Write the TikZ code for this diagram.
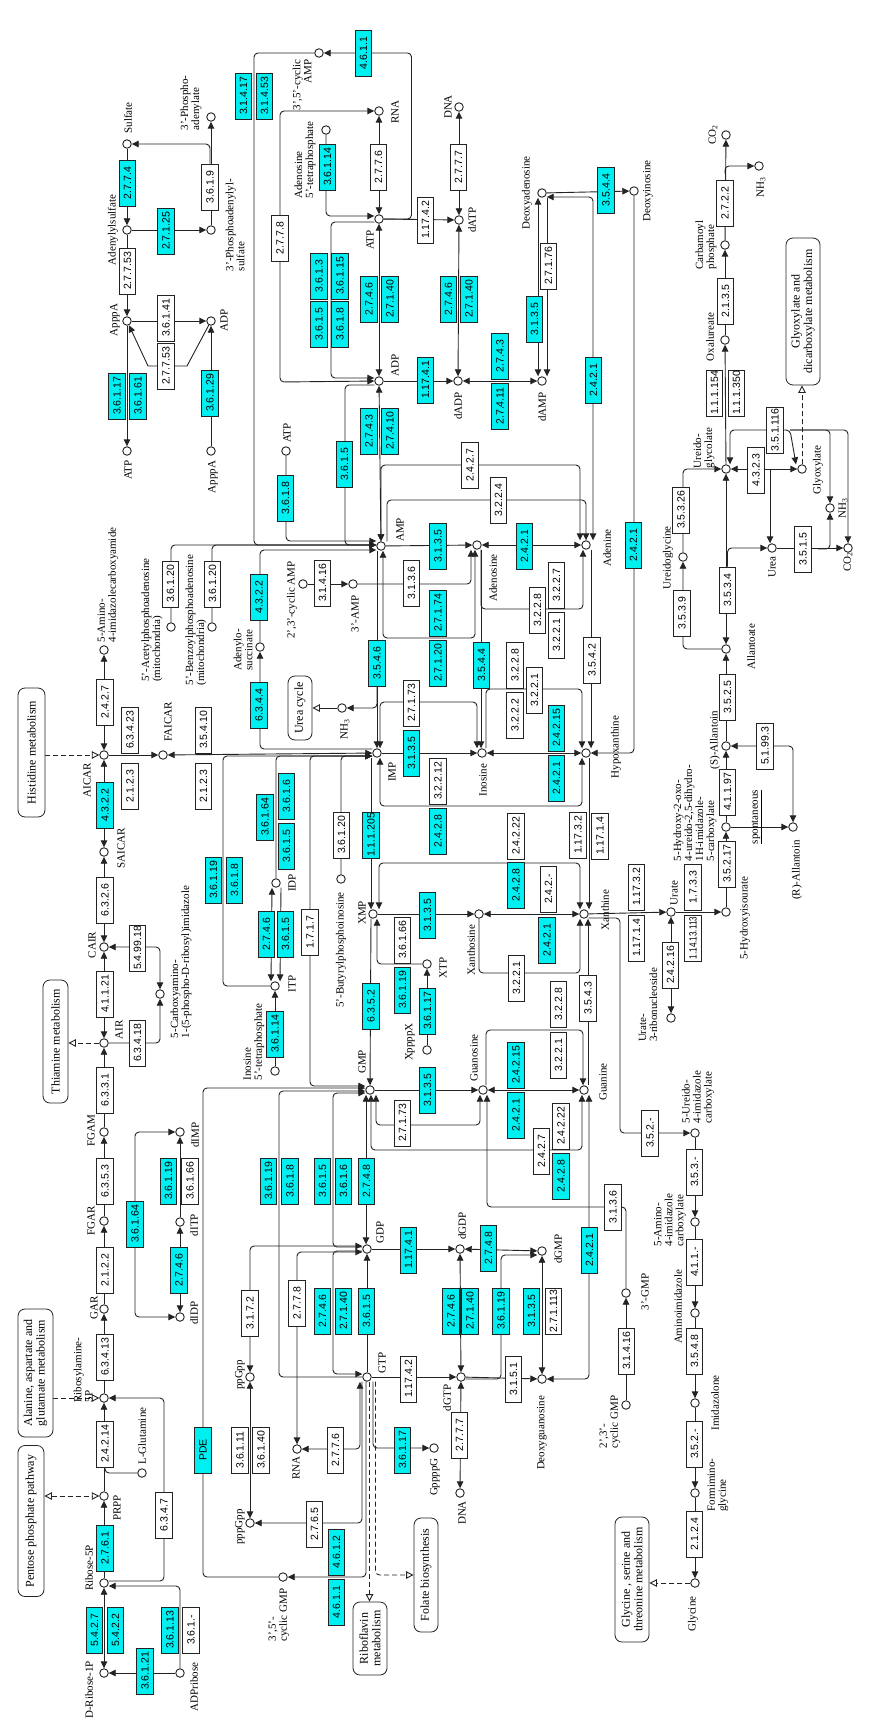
\documentclass[tikz,border=0pt]{standalone}
\usepackage{fontspec}
\setmainfont{Liberation Serif}
\newfontfamily\ecfont{Liberation Sans}
\usetikzlibrary{arrows.meta}
\pgfdeclarelayer{bg}
\pgfsetlayers{bg,main}
\definecolor{kcyan}{RGB}{0,240,242}
\definecolor{kline}{RGB}{35,35,35}
\tikzset{
 cp/.style={circle,draw=kline,fill=white,minimum size=8.5pt,inner sep=0pt,line width=0.9pt},
 ec/.style={draw=kline,rotate=90,minimum width=46pt,minimum height=16.5pt,inner sep=0pt,fill=white,line width=0.8pt,font=\ecfont\fontsize{10.5}{10.5}\selectfont},
 ecc/.style={ec,fill=kcyan},
 lab/.style={rotate=90,align=left,inner sep=0pt,font=\fontsize{11}{11}\selectfont},
 labr/.style={lab,align=right},
 mapbox/.style={draw=kline,rounded corners=7pt,rotate=90,align=center,fill=white,inner sep=1pt,line width=0.8pt,font=\fontsize{12}{12.5}\selectfont},
 ktri/.tip={Triangle[length=7pt,width=6.5pt]},
 kotri/.tip={Triangle[open,length=7.5pt,width=7.5pt]},
 ar/.style={-ktri},
 rar/.style={ktri-ktri},
 mapa/.style={dash pattern=on 5pt off 3pt,-kotri},
 mapb/.style={dash pattern=on 5pt off 3pt,kotri-kotri},
}
\newcommand\kCp[2]{\node[cp] (#1) at (#2) {};}
\newcommand\kEw[3]{\node[ec] (#1) at (#2) {#3};}
\newcommand\kEc[3]{\node[ecc] (#1) at (#2) {#3};}
\newcommand\kLb[3]{\node[lab] (#1) at (#2) {#3};}
\newcommand\kLr[3]{\node[labr] (#1) at (#2) {#3};}
\begin{document}
\begin{tikzpicture}[x=1pt,y=-1pt]
\useasboundingbox (0,0) rectangle (873,1720);
% ---------------- compounds
\kCp{cSulf}{127,144}\kCp{cAPS}{127,230}\kCp{cPAP}{211,117}\kCp{cPAPS}{211,230}
\kCp{cApA}{127,321}\kCp{cADPa}{211,321}\kCp{cATPa}{127,451}\kCp{cApB}{211,451}
\kCp{cATPb}{286,451}\kCp{ccAMP}{319,53}\kCp{cA4P}{326,130}\kCp{cRNAa}{379,111}
\kCp{cATP}{379,219}\kCp{cADP}{379,381}\kCp{cdATP}{459,220}\kCp{cDNAa}{459,107}
\kCp{cdADP}{458,381}\kCp{cdAMP}{542,381}\kCp{cdAdo}{542,193}\kCp{cdIno}{634,191}
\kCp{cCOa}{726,135}\kCp{cNHa}{759,166}\kCp{cCP}{725,245}\kCp{cOxa}{725,340}
\kCp{cUgc}{726,469}\kCp{cGlx}{802,469}\kCp{cNHb}{830,508}\kCp{cUrea}{772,548}
\kCp{cCOb}{848,548}\kCp{cUgly}{683,557}\kCp{cAllt}{726,649}\kCp{cSAll}{726,746}
\kCp{cHOHIU}{726,827}\kCp{cRAll}{793,827}\kCp{cHIU}{726,912}\kCp{cUrate}{671,912}
\kCp{cUrR}{671,1018}\kCp{cUIC}{695,1133}\kCp{cAIC}{695,1222}\kCp{cAI}{695,1313}
\kCp{cImz}{695,1403}\kCp{cFig}{695,1493}\kCp{cGly}{695,1583}\kCp{c3GMP}{626,1293}
\kCp{c23cGMP}{626,1405}\kCp{cAMP}{381,546}\kCp{cAdo}{477,545}\kCp{cAde}{586,545}
\kCp{cIMP}{377,753}\kCp{cIno}{482,753}\kCp{cHx}{586,753}\kCp{cXMP}{373,914}
\kCp{cXao}{479,914}\kCp{cXan}{584,914}\kCp{cGMP}{370,1090}\kCp{cGuo}{483,1090}
\kCp{cGua}{584,1090}\kCp{cGDP}{367,1249}\kCp{cdGDP}{460,1249}\kCp{cdGMP}{542,1251}
\kCp{cGTP}{367,1377}\kCp{cdGTP}{461,1377}\kCp{cdGuo}{542,1379}\kCp{cRNAb}{297,1449}
\kCp{cGpG}{434,1448}\kCp{cDNAb}{460,1493}\kCp{c23cAMP}{303,584}\kCp{c3AMP}{353,584}
\kCp{cNHc}{342,708}\kCp{cAdS}{260,647}\kCp{cAcPA}{171,627}\kCp{cBzPA}{212,627}
\kCp{cR5P}{104,1583}\kCp{cPRPP}{104,1496}\kCp{cPRA}{104,1398}\kCp{cGAR}{104,1309}
\kCp{cFGAR}{104,1221}\kCp{cFGAM}{104,1132}\kCp{cAIR}{104,1043}\kCp{cCAIR}{104,947}
\kCp{cSAICAR}{104,852}\kCp{cAICAR}{104,755}\kCp{cAICA}{104,650}\kCp{cFAICAR}{163,755}
\kCp{cNCAIR}{160,994}\kCp{cR1P}{104,1673}\kCp{cADPR}{180,1673}\kCp{cGln}{142,1473}
\kCp{cdIMP}{180,1132}\kCp{cdITP}{180,1222}\kCp{cdIDP}{180,1317}\kCp{cITP}{275,986}
\kCp{cIDP}{276,883}\kCp{cI4P}{275,1071}\kCp{cBPI}{341,879}\kCp{cXTP}{427,964}
\kCp{cXpX}{427,1050}\kCp{cppGpp}{250,1377}\kCp{cpppGpp}{250,1523}\kCp{ccGMP}{283,1577}
% ---------------- pathway maps
\node[mapbox,minimum width=151pt,minimum height=26pt] (mPPP) at (31,1521) {Pentose phosphate pathway};
\node[mapbox,minimum width=128pt,minimum height=35pt] (mAla) at (35.5,1373) {Alanine, aspartate and\\glutamate metabolism};
\node[mapbox,minimum width=123pt,minimum height=25pt] (mThi) at (55.5,1041.5) {Thiamine metabolism};
\node[mapbox,minimum width=129pt,minimum height=27pt] (mHis) at (31.5,752.5) {Histidine metabolism};
\node[mapbox,minimum width=64pt,minimum height=24pt] (mUrea) at (300,708) {Urea cycle};
\node[mapbox,minimum width=147pt,minimum height=34pt] (mGlyox) at (803,311.5) {Glyoxylate and\\dicarboxylate metabolism};
\node[mapbox,minimum width=73pt,minimum height=34pt] (mRibo) at (370,1638.5) {Riboflavin\\metabolism};
\node[mapbox,minimum width=114pt,minimum height=24pt] (mFol) at (426,1575) {Folate biosynthesis};
\node[mapbox,minimum width=125pt,minimum height=34pt] (mGST) at (632,1579.5) {Glycine , serine and\\threonine metabolism};
% ---------------- enzymes
\kEc{e1}{127.5,183}{2.7.7.4}\kEc{e2}{166,231}{2.7.1.25}\kEw{e3}{210,187}{3.6.1.9}
\kEw{e4}{127.5,271}{2.7.7.53}\kEw{e5}{166,318}{3.6.1.41}\kEw{e6}{166,366}{2.7.7.53}
\kEc{e7}{117,396}{3.6.1.17}\kEc{e8}{138,396}{3.6.1.61}\kEc{e9}{210,393}{3.6.1.29}
\kEc{e10}{243.5,96}{3.1.4.17}\kEc{e11}{264.5,96}{3.1.4.53}\kEc{e12}{363.5,53}{4.6.1.1}
\kEw{e13}{280,238}{2.7.7.8}\kEc{e14}{327.5,167}{3.6.1.14}\kEw{e15}{378.5,167}{2.7.7.6}
\kEw{e16}{425.5,220}{1.17.4.2}\kEw{e17}{458.5,167}{2.7.7.7}\kEc{e18}{369,299}{2.7.4.6}
\kEc{e19}{390,299}{2.7.1.40}\kEc{e20}{319,276}{3.6.1.3}\kEc{e21}{340,276}{3.6.1.15}
\kEc{e22}{319,324}{3.6.1.5}\kEc{e23}{340,324}{3.6.1.8}\kEc{e24}{425.5,380}{1.17.4.1}
\kEc{e25}{448.5,299}{2.7.4.6}\kEc{e26}{469,299}{2.7.1.40}\kEc{e27}{500,356}{2.7.4.3}
\kEc{e28}{500,406}{2.7.4.11}\kEc{e29}{534.5,319}{3.1.3.5}\kEw{e30}{548.5,266}{2.7.1.76}
\kEc{e31}{606,190}{3.5.4.4}\kEc{e32}{593.5,380}{2.4.2.1}\kEc{e33}{369,431}{2.7.4.3}
\kEc{e34}{390,431}{2.7.4.10}\kEc{e35}{344.5,464}{3.6.1.5}\kEc{e36}{285.5,498}{3.6.1.8}
\kEw{e37}{725,203}{2.7.2.2}\kEw{e38}{725.5,301}{2.1.3.5}\kEw{e39}{714.5,393}{1.1.1.154}
\kEw{e40}{736.5,393}{1.1.1.350}\kEw{e41}{775,430}{3.5.1.116}\kEw{e42}{756,470}{4.3.2.3}
\kEw{e43}{681,510}{3.5.3.26}\kEw{e44}{682,613}{3.5.3.9}\kEw{e45}{727.5,590}{3.5.3.4}
\kEw{e46}{803,549}{3.5.1.5}\kEw{e47}{727.5,697}{3.5.2.5}\kEw{e48}{765,746}{5.1.99.3}
\kEw{e49}{727.5,792}{4.1.1.97}\kEw{e50}{727,864}{3.5.2.17}\kEw{e51}{693,887}{1.7.3.3}
\kEw{e52}{693,938}{\scalebox{0.78}[1]{1.14.13.113}}\kEw{e53}{636.5,887}{1.17.3.2}\kEw{e54}{636.5,938}{1.17.1.4}
\kEw{e55}{670.5,965}{2.4.2.16}\kEw{e56}{650,1133}{3.5.2.-}\kEw{e57}{694.5,1172}{3.5.3.-}
\kEw{e58}{694.5,1262}{4.1.1.-}\kEw{e59}{694.5,1351}{3.5.4.8}\kEw{e60}{694.5,1444}{3.5.2.-}
\kEw{e61}{694.5,1534}{2.1.2.4}\kEw{e62}{626.5,1351}{3.1.4.16}\kEw{e63}{613,1207}{3.1.3.6}
\kEc{e64}{589.5,1250}{2.4.2.1}\kEc{e65}{633.5,545}{2.4.2.1}\kEw{e66}{592,660}{3.5.4.2}
\kEc{e67}{438,546}{3.1.3.5}\kEc{e68}{524.5,546}{2.4.2.1}\kEw{e69}{470,465}{2.4.2.7}
\kEw{e70}{498.5,500}{3.2.2.4}\kEw{e71}{537.5,610}{3.2.2.8}\kEw{e72}{556.5,585}{3.2.2.7}
\kEw{e73}{556.5,635}{3.2.2.1}\kEc{e74}{438,613}{2.7.1.74}\kEc{e75}{438,663}{2.7.1.20}
\kEw{e76}{411.5,583}{3.1.3.6}\kEw{e77}{322.5,583}{3.1.4.16}\kEc{e78}{377,663}{3.5.4.6}
\kEc{e79}{481.5,665}{3.5.4.4}\kEw{e80}{411.5,703}{2.7.1.73}\kEc{e81}{411.5,753}{3.1.3.5}
\kEw{e82}{515,715}{3.2.2.2}\kEw{e83}{515,665}{3.2.2.8}\kEw{e84}{534.5,690}{3.2.2.1}
\kEc{e85}{556.5,728}{2.4.2.15}\kEc{e86}{556.5,778}{2.4.2.1}\kEw{e87}{438,781}{3.2.2.12}
\kEc{e88}{438,831}{2.4.2.8}\kEw{e89}{578,835}{1.17.3.2}\kEw{e90}{600,836}{1.17.1.4}
\kEw{e91}{516,836}{2.4.2.22}\kEc{e92}{516,885}{2.4.2.8}\kEw{e93}{548.5,889}{2.4.2.-}
\kEc{e94}{547,940}{2.4.2.1}\kEc{e95}{427.5,915}{3.1.3.5}\kEw{e96}{516.5,978}{3.2.2.1}
\kEc{e97}{371,835}{1.1.1.205}\kEw{e98}{341.5,835}{3.6.1.20}\kEw{e99}{310,932}{1.7.1.7}
\kEc{e100}{371,1006}{6.3.5.2}\kEw{e101}{402.5,940}{3.6.1.66}\kEc{e102}{402.5,990}{3.6.1.19}
\kEc{e103}{427.5,1011}{3.6.1.17}\kEw{e104}{588,998}{3.5.4.3}\kEw{e105}{558.5,1004}{3.2.2.8}
\kEw{e106}{558.5,1055}{3.2.2.1}\kEc{e107}{427.5,1090}{3.1.3.5}\kEc{e108}{516,1065}{2.4.2.15}
\kEc{e109}{516,1115}{2.4.2.1}\kEw{e110}{402.5,1123}{2.7.1.73}\kEw{e111}{541.5,1151}{2.4.2.7}
\kEw{e112}{561,1126}{2.4.2.22}\kEc{e113}{561,1176}{2.4.2.8}
\kEc{e114}{366.5,1181}{2.7.4.8}\kEc{e115}{322.5,1181}{3.6.1.5}\kEc{e116}{343.5,1181}{3.6.1.6}
\kEc{e117}{268.5,1181}{3.6.1.19}\kEc{e118}{290,1181}{3.6.1.8}\kEc{e119}{408.5,1250}{1.17.4.1}
\kEc{e120}{488.5,1248}{2.7.4.8}\kEc{e121}{322.5,1311}{2.7.4.6}\kEc{e122}{343.5,1311}{2.7.1.40}
\kEc{e123}{366.5,1311}{3.6.1.5}\kEw{e124}{408.5,1379}{1.17.4.2}\kEc{e125}{451,1311}{2.7.4.6}
\kEc{e126}{470,1311}{2.7.1.40}\kEc{e127}{501,1311}{3.6.1.19}\kEc{e128}{531.5,1311}{3.1.3.5}
\kEw{e129}{553.5,1311}{2.7.1.113}\kEw{e130}{513.5,1379}{3.1.5.1}\kEw{e131}{459.5,1435}{2.7.7.7}
\kEw{e132}{335.5,1450}{2.7.7.6}\kEc{e133}{402.5,1450}{3.6.1.17}\kEw{e134}{314.5,1524}{2.7.6.5}
\kEc{e135}{336.5,1552}{4.6.1.2}\kEc{e136}{336.5,1602}{4.6.1.1}\kEw{e137}{297,1303}{2.7.7.8}
\kEw{e138}{250,1313}{3.1.7.2}\kEw{e139}{240,1450}{3.6.1.11}\kEw{e140}{261,1450}{3.6.1.40}
\kEc{e141}{203,1450}{PDE}
\kEc{e142}{105,1548}{2.7.6.1}\kEw{e143}{105,1444}{2.4.2.14}\kEw{e144}{105,1357}{6.3.4.13}
\kEw{e145}{105,1270}{2.1.2.2}\kEw{e146}{105,1181}{6.3.5.3}\kEw{e147}{105,1090}{6.3.3.1}
\kEw{e148}{105,994}{4.1.1.21}\kEw{e149}{105,900}{6.3.2.6}\kEw{e150}{137.5,1043}{6.3.4.18}
\kEw{e151}{137.5,948}{5.4.99.18}\kEc{e152}{105,805}{4.3.2.2}\kEw{e153}{130,786}{2.1.2.3}
\kEw{e154}{130,730}{6.3.4.23}\kEw{e155}{203.5,786}{2.1.2.3}\kEw{e156}{203.5,730}{3.5.4.10}
\kEw{e157}{105,702}{2.4.2.7}\kEc{e158}{94.5,1630}{5.4.2.7}\kEc{e159}{115.5,1630}{5.4.2.2}
\kEc{e160}{145,1671}{3.6.1.21}\kEc{e161}{170,1630}{3.6.1.13}\kEw{e162}{191,1630}{3.6.1.-}
\kEw{e163}{164,1515}{6.3.4.7}\kEc{e164}{168.5,1181}{3.6.1.19}\kEw{e165}{190,1181}{3.6.1.66}
\kEc{e166}{179,1270}{2.7.4.6}\kEc{e167}{135,1224}{3.6.1.64}
\kEc{e168}{266.5,934}{2.7.4.6}\kEc{e169}{285.5,934}{3.6.1.5}\kEc{e170}{275,1034}{3.6.1.14}
\kEc{e171}{213.5,880}{3.6.1.19}\kEc{e172}{234.5,880}{3.6.1.8}\kEc{e173}{265,817}{3.6.1.64}
\kEc{e174}{286.5,796}{3.6.1.6}\kEc{e175}{286.5,846}{3.6.1.5}\kEc{e176}{259,705}{6.3.4.4}
\kEc{e177}{259,597}{4.3.2.2}\kEw{e178}{170.5,584}{3.6.1.20}\kEw{e179}{212.5,584}{3.6.1.20}
% ---------------- compound names
\kLb{l1}{128,118}{Sulfate}\kLb{l2}{113,230}{Adenylylsulfate}
\kLb{l3}{191,103}{3'-Phospho-\\adenylate}\kLb{l4}{235,225}{3'-Phosphoadenylyl-\\sulfate}
\kLb{l5}{115,320}{ApppA}\kLb{l6}{224,320}{ADP}\kLb{l7}{128,470}{ATP}\kLb{l8}{213,477}{ApppA}
\kLb{l9}{287,433}{ATP}\kLr{l10}{302,85}{3',5'-cyclic\\AMP}\kLb{l11}{305,160}{Adenosine\\5'-tetraphosphate}
\kLb{l12}{395,112}{RNA}\kLb{l13}{448,107}{DNA}\kLb{l14}{370,240}{ATP}\kLb{l15}{472,220}{dATP}
\kLb{l16}{395,365}{ADP}\kLb{l17}{458,406}{dADP}\kLb{l18}{542,407}{dAMP}
\kLb{l19}{527,193}{Deoxyadenosine}\kLb{l20}{648,191}{Deoxyinosine}
\kLb{l21}{713,135}{CO\textsubscript{2}}\kLb{l22}{761,187}{NH\textsubscript{3}}
\kLb{l23}{706,245}{Carbamoyl\\phosphate}\kLb{l24}{710,337}{Oxalureate}
\kLb{l25}{704,448}{Ureido-\\glycolate}\kLb{l26}{818,470}{Glyoxylate}
\kLb{l27}{843,508}{NH\textsubscript{3}}\kLb{l28}{772,567}{Urea}\kLb{l29}{848,562}{CO\textsubscript{2}}
\kLb{l30}{668,558}{Ureidoglycine}\kLb{l31}{751,647}{Allantoate}\kLb{l32}{715,740}{(S)-Allantoin}
\kLb{l33}{695,813}{5-Hydroxy-2-oxo-\\4-ureido-2,5-dihydro-\\1H-imidazole-\\5-carboxylate}
\kLb{l34}{757,817}{\underline{spontaneous}}\kLb{l35}{797,870}{(R)-Allantoin}
\kLb{l36}{745,918}{5-Hydroxyisourate}\kLb{l37}{674,893}{Urate}
\kLb{l38}{648,1005}{Urate-\\3-ribonucleoside}\kLb{l39}{605,910}{Xanthine}
\kLb{l40}{698,1097}{5-Ureido-\\4-imidazole\\carboxylate}\kLb{l41}{670,1220}{5-Amino-\\4-imidazole\\carboxylate}
\kLb{l42}{678,1307}{Aminoimidazole}\kLb{l43}{715,1403}{Imidazolone}
\kLb{l44}{718,1485}{Formimino-\\glycine}\kLb{l45}{693,1614}{Glycine}
\kLb{l46}{645,1292}{3'-GMP}\kLb{l47}{610,1422}{2',3'-\\cyclic GMP}
\kLb{l48}{400,530}{AMP}\kLb{l49}{493,578}{Adenosine}\kLb{l50}{607,548}{Adenine}
\kLb{l51}{292,600}{2',3'-cyclic AMP}\kLb{l52}{355,614}{3'-AMP}\kLb{l53}{345,729}{NH\textsubscript{3}}
\kLb{l54}{392,772}{IMP}\kLb{l55}{483,780}{Inosine}\kLb{l56}{616,747}{Hypoxanthine}
\kLb{l57}{362,913}{XMP}\kLb{l58}{471,950}{Xanthosine}\kLb{l59}{443,968}{XTP}
\kLb{l60}{410,1042}{XppppX}\kLb{l61}{341,950}{5'-Butyrylphosphoinosine}
\kLb{l62}{362,1062}{GMP}\kLb{l63}{474,1058}{Guanosine}\kLb{l64}{603,1082}{Guanine}
\kLb{l65}{380,1232}{GDP}\kLb{l66}{462,1226}{dGDP}\kLb{l67}{558,1249}{dGMP}
\kLb{l68}{382,1363}{GTP}\kLb{l69}{447,1398}{dGTP}\kLb{l70}{542,1433}{Deoxyguanosine}
\kLb{l71}{435,1477}{GppppG}\kLb{l72}{462,1513}{DNA}\kLb{l73}{296,1468}{RNA}
\kLb{l74}{240,1375}{ppGpp}\kLb{l75}{240,1527}{pppGpp}\kLb{l76}{279,1615}{3',5'-\\cyclic GMP}
\kLb{l77}{243,650}{Adenylo-\\succinate}
\kLb{l78}{152,620}{5'-Acetylphosphoadenosine\\(mitochondria)}
\kLb{l79}{196,620}{5'-Benzoylphosphoadenosine\\(mitochondria)}
\kLb{l80}{108,585}{5-Amino-\\4-imidazolecarboxyamide}
\kLb{l81}{87,780}{AICAR}\kLb{l82}{121,848}{SAICAR}\kLb{l83}{168,722}{FAICAR}
\kLb{l84}{92,945}{CAIR}\kLb{l85}{119,1030}{AIR}
\kLb{l86}{181,962}{5-Carboxyamino-\\1-(5-phospho-D-ribosyl)imidazole}
\kLb{l87}{91,1131}{FGAM}\kLb{l88}{91,1221}{FGAR}\kLb{l89}{94,1308}{GAR}
\kLb{l90}{83,1370}{Ribosylamine-\\5P}\kLb{l91}{117,1508}{PRPP}\kLb{l92}{142,1436}{L-Glutamine}
\kLb{l93}{89,1568}{Ribose-5P}\kLb{l94}{89,1690}{D-Ribose-1P}\kLb{l95}{194,1687}{ADPribose}
\kLb{l96}{195,1135}{dIMP}\kLb{l97}{194,1225}{dITP}\kLb{l98}{194,1313}{dIDP}
\kLb{l99}{292,984}{ITP}\kLb{l100}{292,883}{IDP}\kLb{l101}{254,1042}{Inosine\\5'-tetraphosphate}
% ---------------- reactions
\begin{pgfonlayer}{bg}
\fill[white] (0,0) rectangle (873,1720);
\begin{scope}[line width=0.9pt,draw=kline,rounded corners=4pt]
% sulfur branch and ApppA
\draw[ar] (cSulf) -- (cAPS);
\draw[ar] (cAPS) -- (cPAPS);
\draw[ar] (cPAPS) -- (cPAP);
\draw[ar] (e3.east) |- (cSulf);
\draw[ar] (cAPS) -- (cApA);
\draw[ar] (cApA) -- (cADPa);
\draw[ar,rounded corners=0pt] (cADPa) -- ([xshift=21pt]e6.center) -- ([xshift=-18pt]e6.center) -- (cApA);
\draw[ar] (cApA) -- (cATPa);
\draw[ar] (cApB) -- (cADPa);
% cyclic AMP, ATP, ADP
\draw[ar] (cATP) -| ([xshift=48pt]e12.center) -- (ccAMP);
\draw[ar] (ccAMP) -- (254,53) -- (254,545) -- ([yshift=1pt]cAMP.west);
\draw[rar] (cRNAa) -- (cATP);
\draw[ar] (cA4P) |- ([yshift=3pt]cATP.west);
\draw[ar] ([yshift=-3pt]cATP.west) -- (331,222) -- (331,378) -- ([yshift=3pt]cADP.west);
\draw[rar] (cRNAa) -- (280,111) -- (280,382) -- (cADP);
\draw[ar] (cATP) -- (cdATP);
\draw[rar] (cdATP) -- (cDNAa);
\draw[rar] (cATP) -- (cADP);
\draw[rar] (cADP) -- (cAMP);
\draw[ar] (cADP) -- (cdADP);
\draw[rar] (cdATP) -- (cdADP);
\draw[rar] (cdADP) -- (cdAMP);
\draw[rar] ([xshift=-4pt]cdAMP.north) -- ([xshift=-4pt]cdAdo.south);
\draw[ar] ([xshift=5pt]cdAdo.south) -- ([xshift=5pt]cdAMP.north);
\draw[ar] (cdAdo) -- (cdIno);
\draw[rar] ([yshift=-4pt]cdAdo.east) -- (593,197) -- ([xshift=7pt]cAde.north);
\draw[ar] (cdIno) -- (634,753) -- (cHx);
% AMP
\draw[ar] (cATPb) |- ([yshift=5pt]cAMP.west);
\draw[ar] ([yshift=-4pt]cADP.west) -- (345,385) -- (345,545) -- ([yshift=1pt]cAMP.west);
\draw[ar] (cAcPA) |- ([yshift=1pt]cAMP.west);
\draw[ar] (cBzPA) |- ([yshift=1pt]cAMP.west);
\draw[ar] (cAdS) |- ([yshift=-4pt]cAMP.west);
\draw[ar] ([yshift=4pt]cIMP.west) -| (cAdS);
\draw[ar] (cAMP) -- (cAdo);
\draw[rar] (cAdo) -- (cAde);
\draw[rar] (cAMP.north) -- (381,465) -| ([xshift=-6pt]cAde.north);
\draw[ar] ([xshift=6pt]cAMP.north) -- (387,500) -| (cAde.north);
\draw[ar] ([xshift=4pt]cAdo.south) -- (481,609) -| ([xshift=-3pt]cAde.south);
\draw[ar] ([xshift=4pt]cAdo.south) -- ([xshift=-1pt]cIno.north);
\draw[rar] ([xshift=2pt]cAMP.south) -- (383,638) -| ([xshift=-2pt]cAdo.south);
\draw[ar] (c3AMP) -| ([xshift=-6pt]cAdo.south);
\draw[ar] (c23cAMP) -- (c3AMP);
\draw[ar] ([xshift=-4pt]cAMP.south) -- (cIMP.north);
\draw[ar] (e78.west) |- (cNHc);
\draw[-kotri] (cNHc) -- (mUrea);
% IMP, inosine, hypoxanthine
\draw[ar] (cIMP) -- (cIno);
\draw[rar] (cIno) -- (cHx);
\draw[rar] ([xshift=3pt]cIMP.north) -- (380,702) -| ([xshift=-5pt]cIno.north);
\draw[ar] ([xshift=4pt]cIno.north) -- (486,689) -| ([xshift=-4pt]cHx.north);
\draw[ar] ([xshift=5pt]cAde.south) -- ([xshift=5pt]cHx.north);
\draw[rar] ([xshift=3pt]cIMP.south) -- (380,806) -| ([xshift=-4pt]cHx.south);
\draw[ar] ([xshift=3pt]cHx.south) -- ([xshift=5pt]cXan.north);
\draw[ar] ([xshift=-6pt]cIMP.south) -- ([xshift=-2pt]cXMP.north);
\draw[rar] ([xshift=6pt]cXMP.north) -- (379,863) -| ([xshift=-4pt]cXan.north);
\draw[rar] (cFAICAR) -- (cIMP);
% XMP, xanthine, urate and ureides
\draw[ar] (cXMP) -- (cXao);
\draw[rar] (cXao) -- (cXan);
\draw[ar] (cXao.south) -- (479,973) -| ([xshift=-4pt]cXan.south);
\draw[ar] ([xshift=4pt]cGua.north) -- ([xshift=4pt]cXan.south);
\draw[ar] (cXan) -- (cUrate);
\draw[ar] (cUrate) -- (cHIU);
\draw[rar] (cUrate) -- (cUrR);
\draw[ar] ([yshift=-4pt]cXan.east) -- (620,918) |- (cUIC);
\draw[ar] (cUIC) -- (cAIC);
\draw[ar] (cAIC) -- (cAI);
\draw[ar] (cAI) -- (cImz);
\draw[ar] (cImz) -- (cFig);
\draw[ar] (cFig) -- (cGly);
\draw[mapa] (cGly) -- (mGST.south |- cGly);
\draw[ar] (c23cGMP) -- (c3GMP);
\draw[ar] (c3GMP) |- (487,1207) -- ([xshift=4pt]cGuo.south);
\draw[rar] ([xshift=5pt]cGua.south) -- (589,1379) -- (cdGuo);
\draw[ar] (cCP) -- (cCOa);
\draw[ar] ([yshift=6pt]e37.east) |- (cNHa);
\draw[ar] (cOxa) -- (cCP);
\draw[ar] (cUgc) -- (cOxa);
\draw[rar] (cUgc) -- (cGlx);
\draw[ar] ([xshift=14pt]e42.center) -- ([xshift=-2pt]cUrea.north);
\draw[ar] (cUgly) |- (cUgc);
\draw[ar] (cAllt) -| (cUgly);
\draw[rar] (cAllt) -- (cUgc);
\draw[ar] (e45.east) |- (cUrea);
\draw[ar] (cUrea) -- (cCOb);
\draw[ar] ([xshift=15pt]e46.center) -| (cNHb);
\draw[ar] (cSAll) -- (cAllt);
\draw[rar] (cRAll) |- (cSAll);
\draw[ar] (cHOHIU) -- (cSAll);
\draw[ar] (cHOHIU) -- (cRAll);
\draw[ar] (cHIU) -- (cHOHIU);
\draw[mapa] (cGlx) -- (cGlx |- mGlyox.west);
\draw[rar] ([xshift=4pt]cUgc.north) -- (730,430) -- (790,430) -- ([xshift=-6pt]cGlx.north);
\draw[ar] (790,430) -| (cNHb);
\draw[ar] (790,430) -| (cCOb);
% GMP, guanosine, guanine
\draw[ar] ([xshift=-2pt]cXMP.south) -- (cGMP.north);
\draw[ar] (cXTP) -| ([xshift=4pt]cXMP.south);
\draw[ar] (cXpX) -- (cXTP);
\draw[ar] (cGMP) -- (cGuo);
\draw[rar] (cGuo) -- (cGua);
\draw[ar] ([xshift=3pt]cGuo.north) -- (486,1030) -| ([xshift=-1pt]cGua.north);
\draw[rar] ([xshift=6pt]cGMP.south) -- (376,1125) -| ([xshift=-3pt]cGuo.south);
\draw[rar] ([xshift=1pt]cGMP.south) -- (371,1150) -| ([xshift=-2pt]cGua.south);
\draw[rar] ([xshift=-4pt]cGMP.south) -- ([xshift=-1pt]cGDP.north);
\draw[ar] ([yshift=2pt]cGDP.west) -| (333,1150) |- ([yshift=-3pt]cGMP.west);
\draw[ar] ([yshift=-2pt]cGDP.west) -| (333,1320) |- ([yshift=3pt]cGTP.west);
\draw[ar] (cGTP) -- (cGDP);
\draw[ar] (cGTP) -| (279,1200) |- ([yshift=-1pt]cGMP.west);
\draw[ar] (ccGMP) -| (203,1200) |- ([yshift=2pt]cGMP.west);
\draw[rar] ([yshift=4pt]cGMP.west) -| (310,900) |- ([yshift=-3pt]cIMP.west);
\draw[ar] (cBPI) |- ([yshift=-3pt]cIMP.west);
\draw[ar] (cITP) -| (223,900) |- ([yshift=-3pt]cIMP.west);
\draw[ar] (cIDP) |- ([yshift=-3pt]cIMP.west);
\draw[rar] ([xshift=-4pt]cIDP.south) -- ([xshift=-4pt]cITP.north);
\draw[ar] ([xshift=5pt]cIDP.south) -- ([xshift=5pt]cITP.north);
\draw[ar] (cI4P) -- (cITP);
% deoxyinosine phosphates
\draw[ar] (cdITP) -- (cdIMP);
\draw[rar] (cdIDP) -- (cdITP);
\draw[rar] (cdIMP) -| (135,1200) |- (cdIDP);
% de novo synthesis
\draw[ar] (cR5P) -- (cPRPP);
\draw[ar] (cPRPP) -- (cPRA);
\draw[ar] (cPRA) -- (cGAR);
\draw[ar] (cGAR) -- (cFGAR);
\draw[ar] (cFGAR) -- (cFGAM);
\draw[ar] (cFGAM) -- (cAIR);
\draw[rar] (cAIR) -- (cCAIR);
\draw[rar] (cCAIR) -- (cSAICAR);
\draw[rar] (cSAICAR) -- (cAICAR);
\draw[rar] (cAICAR) -- (cAICA);
\draw[ar] (cAICAR) -- (cFAICAR);
\draw[ar] (cAIR) -| (cNCAIR);
\draw[rar] (cCAIR) -| (cNCAIR);
\draw (cGln) -| (e143.west);
\draw[ar] ([yshift=2pt]cR5P.east) -| (164,1500) |- (cPRA);
\draw[rar] (cR1P) -- (cR5P);
\draw[ar] (cADPR) -- (cR1P);
\draw[ar] (cADPR) |- ([yshift=-3pt]cR5P.east);
\draw[mapb] (mPPP.south |- cPRPP) -- (cPRPP);
\draw[mapa] (mAla.south |- cPRA) -- (cPRA);
\draw[mapa] (mHis.south |- cAICAR) -- (cAICAR);
\draw[mapa] (cAIR) -- (mThi.south |- cAIR);
% GDP, GTP and deoxy forms
\draw[ar] (cGTP) -- (cdGTP);
\draw[rar] (cdGDP) -- (cdGTP);
\draw[ar] (cGDP) -- (cdGDP);
\draw[rar] (cdGDP) -- (cdGMP);
\draw[ar] ([yshift=-2pt]cdGTP.east) -| (501,1300) |- ([yshift=-4pt]cdGMP.west);
\draw[rar] (cdGMP) -- (cdGuo);
\draw[ar] (cdGTP) -- (cdGuo);
\draw[rar] (cdGTP) -- (cDNAb);
\draw[rar] (cRNAb) -- (297,1252) -- ([yshift=-3pt]cGDP.west);
\draw[rar] (cppGpp) -- (250,1246) -- ([yshift=3pt]cGDP.west);
\draw[rar] (cpppGpp) -- (cppGpp);
\draw[ar] ([xshift=-5pt]cGTP.south) |- (cpppGpp);
\draw[rar] (cRNAb) -| ([xshift=-7pt]cGTP.south);
\draw[ar] ([xshift=-1pt]cGTP.south) |- (ccGMP);
\draw[ar] ([xshift=6pt]cGTP.south) |- (cGpG);
\draw[mapa] ([xshift=2.5pt]cGTP.south) -- ([xshift=2.5pt]cGTP.south |- mRibo.east);
\draw[mapa] ([xshift=8.5pt]cGTP.south) |- (mFol.north);
\end{scope}
\end{pgfonlayer}
\end{tikzpicture}
\end{document}
